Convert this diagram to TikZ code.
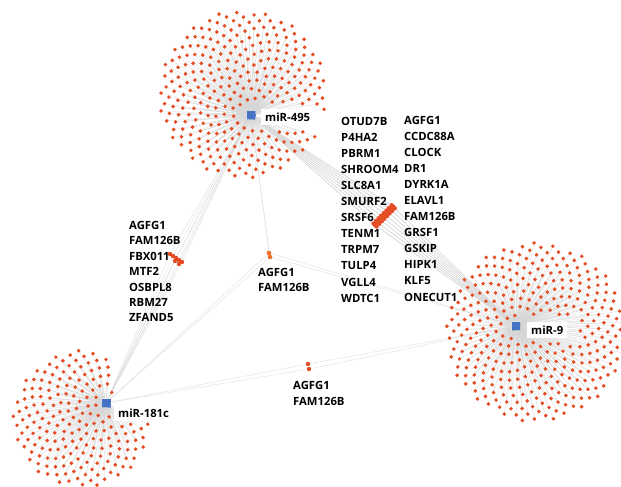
\documentclass[tikz,border=0pt]{standalone}
\usepackage{fontspec}
\setmainfont{Open Sans}
\definecolor{dotc}{RGB}{230,76,36}
\definecolor{dotc2}{RGB}{236,112,40}
\definecolor{hubc}{RGB}{68,114,196}
\definecolor{edgec}{RGB}{214,214,214}
\definecolor{gedgec}{RGB}{218,218,218}
\newcommand\mycloud[9]{%
\foreach \k in {1,...,#5}{%
  \pgfmathsetmacro\rr{#4*sqrt((\k-0.5)/#5)}%
  \pgfmathsetmacro\aa{360*(\k*0.381966-floor(\k*0.381966))}%
  \pgfmathsetmacro\px{#2+\rr*cos(\aa)}%
  \pgfmathsetmacro\py{#3+\rr*sin(\aa)}%
  \pgfmathtruncatemacro\keep{and(and(or(or(\px<#6,\px>#8),or(\py<#7,\py>#9)),veclen(\px-\hx,\py-\hy)>10),\extra)}%
  \ifnum\keep=1
    \ifnum\pass=1
      \coordinate (#1-p\k) at (\px,\py);
      \draw[cedge] (#1) -- (#1-p\k);
    \else
      \node[cdot] (#1-\k) at (\px,\py) {};
    \fi
  \fi
}}
\newcommand\allclouds{%
\def\hx{251}\def\hy{115}\def\extra{1}%
\mycloud{m495}{243}{94}{84}{320}{256}{104}{324}{130}%
\def\hx{516}\def\hy{326}\def\extra{1}%
\mycloud{m9}{536}{332}{90}{365}{521}{316}{580}{342}%
\def\hx{106}\def\hy{403}\def\extra{or(\px<\hx+6,\py>\hy-6)}%
\mycloud{m181}{82}{419}{69}{217}{112}{400}{178}{424}}
\begin{document}
\begin{tikzpicture}[x=1pt,y=-1pt,
  cdot/.style={circle,fill=dotc,inner sep=0pt,minimum size=3.9pt},
  gdot/.style={circle,fill=dotc,inner sep=0pt,minimum size=4.4pt},
  gdotb/.style={circle,fill=dotc2,inner sep=0pt,minimum size=4.6pt},
  hub/.style={rectangle,fill=hubc,inner sep=0pt,minimum size=9pt},
  hlabel/.style={fill=white,inner sep=4pt,anchor=west,font=\bfseries\fontsize{11.3}{13}\selectfont},
  glabel/.style={inner sep=0pt,anchor=west,font=\bfseries\fontsize{11.3}{13}\selectfont},
  cedge/.style={draw=edgec,line width=0.25pt},
  gedge/.style={draw=gedgec,line width=0.3pt}]
\useasboundingbox (0,0) rectangle (621,487);
\fill[white] (0,0) rectangle (621,487);

% hubs
\node[hub] (m495) at (251,115) {};
\node[hub] (m9) at (516,326) {};
\node[hub] (m181) at (106,403) {};

% cloud edges (pass 1)
\def\pass{1}
\allclouds

% gene positions and edges
\foreach \i in {0,...,7}{\foreach \j in {0,1,2}{%
  \pgfmathtruncatemacro\n{\i*3+\j+1}%
  \coordinate (p1-\n) at ({375+2.6*\i+1.5*(\j-1)},{225-2.6*\i+1.5*(\j-1)});
  \draw[gedge] (m495) -- (p1-\n) -- (m9);
}}
\foreach \x/\y [count=\n] in {170/254,173/256,176/258,179/260,182/262,175/261,179/264}{%
  \coordinate (p2-\n) at (\x,\y);
  \draw[gedge] (m495) -- (p2-\n) -- (m181);
}
\foreach \x/\y [count=\n] in {269/253,270/257}{%
  \coordinate (p3-\n) at (\x,\y);
  \draw[gedge] (m495) -- (p3-\n) -- (m181);
  \draw[gedge] (p3-\n) -- (m9);
}
\foreach \x/\y [count=\n] in {308/364,309/369}{%
  \coordinate (p4-\n) at (\x,\y);
  \draw[gedge] (m181) -- (p4-\n) -- (m9);
}

% cloud dots (pass 2)
\def\pass{2}
\allclouds

% gene dots
\foreach \n in {1,...,24} \node[gdot] (c1-\n) at (p1-\n) {};
\foreach \n in {1,...,7} \node[gdot] (c2-\n) at (p2-\n) {};
\foreach \n in {1,2} \node[gdotb] (c3-\n) at (p3-\n) {};
\foreach \n in {1,2} \node[gdot] (c4-\n) at (p4-\n) {};

% hub labels
\node[hlabel] (l495) at (261,117) {miR-495};
\node[hlabel] (l9) at (527,330) {miR-9};
\node[hlabel] (l181) at (114,413) {miR-181c};

% gene labels
\foreach \t [count=\i] in {OTUD7B,P4HA2,PBRM1,SHROOM4,SLC8A1,SMURF2,SRSF6,TENM1,TRPM7,TULP4,VGLL4,WDTC1}
  \node[glabel] (ga-\i) at (341,{121+16.1*(\i-1)}) {\t};
\foreach \t [count=\i] in {AGFG1,CCDC88A,CLOCK,DR1,DYRK1A,ELAVL1,FAM126B,GRSF1,GSKIP,HIPK1,KLF5,ONECUT1}
  \node[glabel] (gb-\i) at (404,{120+16.1*(\i-1)}) {\t};
\foreach \t [count=\i] in {AGFG1,FAM126B,FBX011,MTF2,OSBPL8,RBM27,ZFAND5}
  \node[glabel] (gc-\i) at (129,{225+15.5*(\i-1)}) {\t};
\foreach \t [count=\i] in {AGFG1,FAM126B}
  \node[glabel] (gd-\i) at (258,{272+15.5*(\i-1)}) {\t};
\foreach \t [count=\i] in {AGFG1,FAM126B}
  \node[glabel] (ge-\i) at (293,{385+16*(\i-1)}) {\t};
\end{tikzpicture}
\end{document}
